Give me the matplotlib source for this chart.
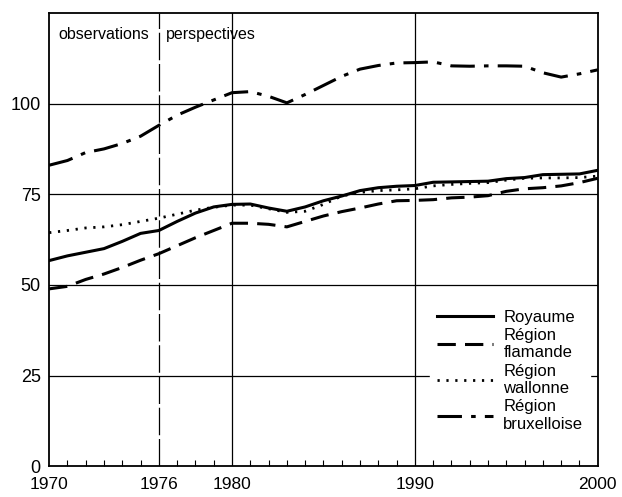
import matplotlib
matplotlib.use("Agg")
import matplotlib.pyplot as plt
import numpy as np

plt.rcParams['font.family'] = ['Liberation Sans', 'DejaVu Sans']

years = list(range(1970, 2001))
royaume = [56.7, 58, 59, 60, 62, 64.2, 65, 67.5, 69.8, 71.5, 72.2, 72.3, 71.2, 70.3, 71.5,
           73.2, 74.5, 76, 76.8, 77.2, 77.4, 78.3, 78.4, 78.5, 78.6, 79.3, 79.6, 80.4, 80.5, 80.6, 81.6]
flamande = [48.9, 49.6, 51.5, 53, 54.8, 56.8, 58.6, 60.8, 63, 65, 67, 67, 66.7, 66, 67.5,
            69, 70.2, 71.2, 72.3, 73.2, 73.3, 73.5, 74, 74.2, 74.6, 75.8, 76.5, 76.8, 77.3, 78.2, 79.4]
wallonne = [64.4, 65, 65.7, 66, 66.6, 67.5, 68.4, 69.5, 70.6, 71.4, 72, 72, 71, 70, 70.3,
            72.2, 74.5, 75.5, 76, 76.2, 76.5, 77.3, 77.7, 78, 78.2, 78.9, 79.4, 79.5, 79.5, 79.6, 80]
bruxelles = [83, 84.3, 86.5, 87.5, 89, 91, 94, 96.8, 99, 101, 103, 103.3, 102, 100.2, 102.5,
             105, 107.5, 109.5, 110.5, 111.2, 111.3, 111.5, 110.4, 110.3, 110.4, 110.4, 110.3, 108.5, 107.3, 108.2, 109.3]

labels = ["Royaume", "Région\nflamande", "Région\nwallonne", "Région\nbruxelloise"]
xticks = [1970, 1976, 1980, 1990, 2000]
yticks = [0, 25, 50, 75, 100]

fig = plt.figure(figsize=(6.22, 4.97), dpi=100)
ax = fig.add_axes([0.079, 0.062, 0.882, 0.912])

# grid
for v in [25, 50, 75, 100]:
    ax.axhline(v, color='black', lw=0.9, zorder=1)
for v in [1980, 1990]:
    ax.axvline(v, color='black', lw=0.9, zorder=1)
ax.axvline(1976, color='black', lw=0.9, dashes=(22, 3), zorder=1)

ax.plot(years, royaume, color='black', lw=2.2, label=labels[0], zorder=3)
ax.plot(years, flamande, color='black', lw=2.2, dashes=(6, 3), label=labels[1], zorder=3)
ax.plot(years, wallonne, color='black', lw=2.0, dashes=(0.8, 2.4), label=labels[2], zorder=3)
ax.plot(years, bruxelles, color='black', lw=2.2, dashes=(8, 3, 1.5, 3), label=labels[3], zorder=3)

ax.set_xlim(1970, 2000)
ax.set_ylim(0, 125)
ax.set_xticks(xticks)
ax.set_yticks(yticks)
ax.set_xticks(years, minor=True)
ax.tick_params(axis='y', length=0, labelsize=13, pad=6)
ax.tick_params(axis='x', which='major', direction='in', length=0, labelsize=12.5, pad=8)
ax.tick_params(axis='x', which='minor', direction='in', length=4, width=0.8)
for s in ax.spines.values():
    s.set_linewidth(1.3)

ax.text(1970.5, 119, "observations", fontsize=11.5, va='center', ha='left')
ax.text(1976.4, 119, "perspectives", fontsize=11.5, va='center', ha='left')

leg = ax.legend(loc='lower right', frameon=True, fontsize=12, handlelength=3.4,
                handletextpad=0.6, labelspacing=0.2, borderaxespad=0.3,
                bbox_to_anchor=(0.995, 0.05))
leg.get_frame().set_edgecolor('white')
leg.get_frame().set_alpha(1)
leg.get_frame().set_boxstyle('square', pad=0)
leg.set_zorder(5)

fig.savefig("out.png", dpi=100)
